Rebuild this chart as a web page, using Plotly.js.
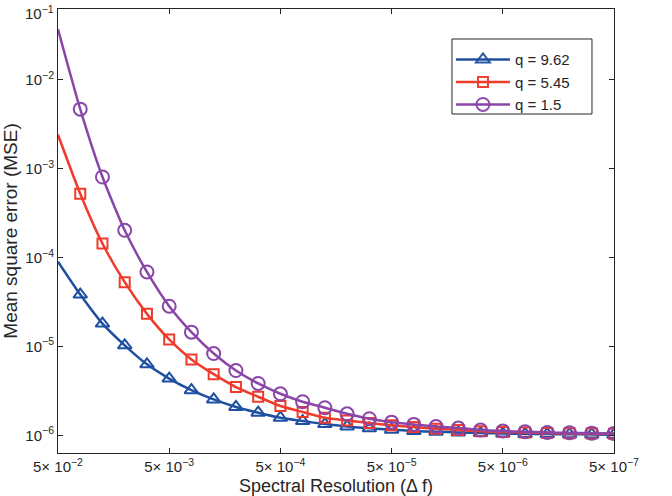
<!DOCTYPE html>
<html>
<head>
<meta charset="utf-8">
<script src="https://cdn.plot.ly/plotly-3.0.1.min.js"></script>
<style>
  html, body { margin: 0; padding: 0; background: #fff; }
  #chart { width: 672px; height: 496px; }
</style>
</head>
<body>
<div id="chart"></div>
<script>
// Spectral resolution values (Δf), 0.2-decade steps from 5e-2 down to 5e-7
const deltaF = [
  5.000e-2, 3.155e-2, 1.991e-2, 1.256e-2, 7.924e-3,
  5.000e-3, 3.155e-3, 1.991e-3, 1.256e-3, 7.924e-4,
  5.000e-4, 3.155e-4, 1.991e-4, 1.256e-4, 7.924e-5,
  5.000e-5, 3.155e-5, 1.991e-5, 1.256e-5, 7.924e-6,
  5.000e-6, 3.155e-6, 1.991e-6, 1.256e-6, 7.924e-7,
  5.000e-7
];

// Mean square error for each q
const mseQ962 = [
  9.0e-5, 3.84e-5, 1.81e-5, 1.03e-5, 6.3e-6,
  4.36e-6, 3.23e-6, 2.54e-6, 2.09e-6, 1.80e-6,
  1.58e-6, 1.45e-6, 1.34e-6, 1.26e-6, 1.20e-6,
  1.16e-6, 1.12e-6, 1.10e-6, 1.08e-6, 1.065e-6,
  1.05e-6, 1.04e-6, 1.035e-6, 1.03e-6, 1.025e-6,
  1.02e-6
];
const mseQ545 = [
  2.41e-3, 5.24e-4, 1.44e-4, 5.29e-5, 2.33e-5,
  1.20e-5, 7.15e-6, 4.89e-6, 3.50e-6, 2.72e-6,
  2.14e-6, 1.83e-6, 1.58e-6, 1.47e-6, 1.38e-6,
  1.30e-6, 1.24e-6, 1.19e-6, 1.15e-6, 1.11e-6,
  1.09e-6, 1.075e-6, 1.065e-6, 1.055e-6, 1.05e-6,
  1.045e-6
];
const mseQ15 = [
  3.7e-2, 4.68e-3, 8.07e-4, 2.03e-4, 6.9e-5,
  2.84e-5, 1.45e-5, 8.34e-6, 5.37e-6, 3.84e-6,
  2.94e-6, 2.39e-6, 2.05e-6, 1.75e-6, 1.54e-6,
  1.41e-6, 1.33e-6, 1.26e-6, 1.21e-6, 1.15e-6,
  1.12e-6, 1.10e-6, 1.08e-6, 1.07e-6, 1.06e-6,
  1.05e-6
];

const seriesNames = ['q = 9.62', 'q = 5.45', 'q = 1.5'];

const xTickVals = [5e-2, 5e-3, 5e-4, 5e-5, 5e-6, 5e-7];
const xTickText = [
  '5× 10<sup>−2</sup>', '5× 10<sup>−3</sup>', '5× 10<sup>−4</sup>',
  '5× 10<sup>−5</sup>', '5× 10<sup>−6</sup>', '5× 10<sup>−7</sup>'
];
const yTickVals = [1e-6, 1e-5, 1e-4, 1e-3, 1e-2];
const yTickText = [
  '10<sup>−6</sup>', '10<sup>−5</sup>', '10<sup>−4</sup>',
  '10<sup>−3</sup>', '10<sup>−2</sup>'
];
const yTopLabel = '10<sup>−1</sup>';

const FONT = 'Liberation Sans, Arial, Helvetica, sans-serif';
const INK = '#262626';

// the first sample only anchors the curve; markers start from the second one
const markerOpacity = deltaF.map((_, i) => (i === 0 ? 0 : 1));

function series(y, name, color, symbol, size) {
  return {
    x: deltaF,
    y: y,
    name: name,
    type: 'scatter',
    mode: 'lines+markers',
    line: { color: color, width: 2.5, shape: 'spline', smoothing: 0.6 },
    marker: {
      symbol: symbol,
      size: size,
      color: color,
      opacity: markerOpacity,
      line: { color: color, width: 2 }
    }
  };
}

const traces = [
  series(mseQ962, seriesNames[0], '#1f4fa0', 'triangle-up-open', 12),
  series(mseQ545, seriesNames[1], '#ef3b2c', 'square-open', 10),
  series(mseQ15, seriesNames[2], '#8a45a8', 'circle-open', 13)
];

const axisCommon = {
  type: 'log',
  showgrid: false,
  zeroline: false,
  showline: true,
  linecolor: INK,
  linewidth: 1,
  mirror: 'ticks',
  ticks: 'inside',
  ticklen: 5,
  tickwidth: 1,
  tickcolor: INK,
  tickfont: { family: FONT, size: 15, color: INK },
  automargin: false
};

const layout = {
  width: 672,
  height: 496,
  margin: { l: 58, r: 58, t: 9, b: 43 },
  paper_bgcolor: '#ffffff',
  plot_bgcolor: '#ffffff',
  showlegend: true,
  legend: {
    x: 0.7068, y: 0.923, xanchor: 'left', yanchor: 'top',
    bgcolor: 'rgba(0,0,0,0)',
    borderwidth: 0,
    font: { family: FONT, size: 15, color: INK },
    itemwidth: 54
  },
  xaxis: Object.assign({}, axisCommon, {
    range: [Math.log10(5e-2), Math.log10(5e-7)],
    tickmode: 'array',
    tickvals: xTickVals,
    ticktext: xTickText,
    title: { text: 'Spectral Resolution (Δ f)', font: { family: FONT, size: 18, color: INK }, standoff: 6 }
  }),
  yaxis: Object.assign({}, axisCommon, {
    range: [-6.198, -1.203],
    tickmode: 'array',
    tickvals: yTickVals,
    ticktext: yTickText,
    title: { text: 'Mean square error (MSE)', font: { family: FONT, size: 19, color: INK }, standoff: 8 }
  }),
  shapes: [
    // legend frame
    {
      type: 'rect', xref: 'paper', yref: 'paper',
      x0: 0.7086, x1: 0.9604, y0: 0.7635, y1: 0.9324,
      line: { color: INK, width: 1 },
      fillcolor: 'rgba(0,0,0,0)', layer: 'above'
    }
  ],
  annotations: [
    {
      text: yTopLabel, xref: 'paper', yref: 'paper',
      x: 0, y: 1, xanchor: 'right', yanchor: 'middle',
      xshift: -2, yshift: -3, showarrow: false,
      font: { family: FONT, size: 15, color: INK }
    }
  ]
};

Plotly.newPlot('chart', traces, layout, { displayModeBar: false, staticPlot: true });
</script>
</body>
</html>
